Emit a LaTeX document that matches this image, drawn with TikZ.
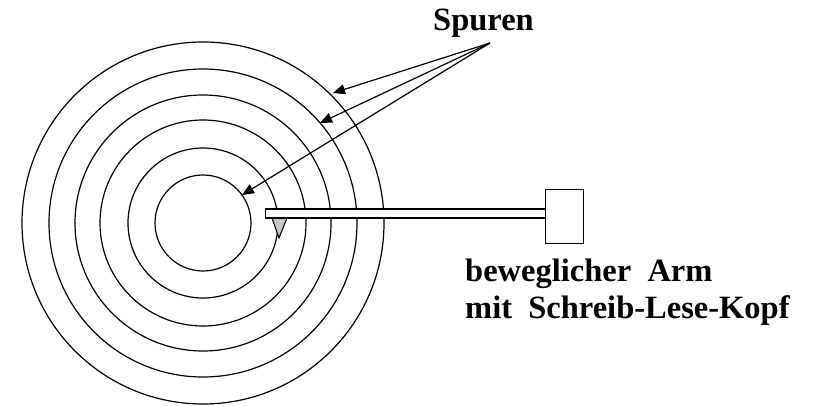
\documentclass[tikz,border=0pt]{standalone}
\usepackage{fontspec}
\setmainfont{Liberation Serif}
\usetikzlibrary{arrows.meta}
\tikzset{
  track/.style={draw=black,line width=1.2pt,circle,minimum size=#1*2pt,inner sep=0pt,outer sep=0pt},
  lbl/.style={anchor=base west,inner sep=0pt,font=\fontsize{32.5}{38}\selectfont\bfseries},
  ptr/.style={draw=black,line width=1.2pt,-{Triangle[length=12pt,width=10pt]}},
  armpart/.style={draw=black,line width=1.2pt,fill=white}
}
\begin{document}
\begin{tikzpicture}[x=1pt,y=-1pt]
\useasboundingbox (0,0) rectangle (819,406);
\node[track=181] (t1) at (203,223) {};
\node[track=154] (t2) at (203,223) {};
\node[track=128] (t3) at (203,223) {};
\node[track=103] (t4) at (203,223) {};
\node[track=75] (t5) at (203,223) {};
\node[track=48] (t6) at (203,223) {};
\filldraw[draw=black,line width=1.1pt,fill=black!22] (272,218) -- (287,218) -- (279,238) -- cycle;
\node[armpart,minimum width=280pt,minimum height=9pt,inner sep=0pt,anchor=west] (arm) at (265,213.5) {};
\node[armpart,minimum width=38pt,minimum height=54pt,inner sep=0pt,anchor=north west] (box) at (545,189) {};
\node[lbl] (spuren) at (433,31) {Spuren};
\node[lbl] (l1) at (465,281) {beweglicher\ \ Arm};
\node[lbl] (l2) at (465,318) {mit\ \ Schreib-Lese-Kopf};
\coordinate (apex) at (490,43);
\coordinate (e1) at (333,93);
\coordinate (e2) at (320,123);
\coordinate (e3) at (242,195);
\draw[ptr] (apex) -- (e1);
\draw[ptr] (apex) -- (e2);
\draw[ptr] (apex) -- (e3);
\end{tikzpicture}
\end{document}
